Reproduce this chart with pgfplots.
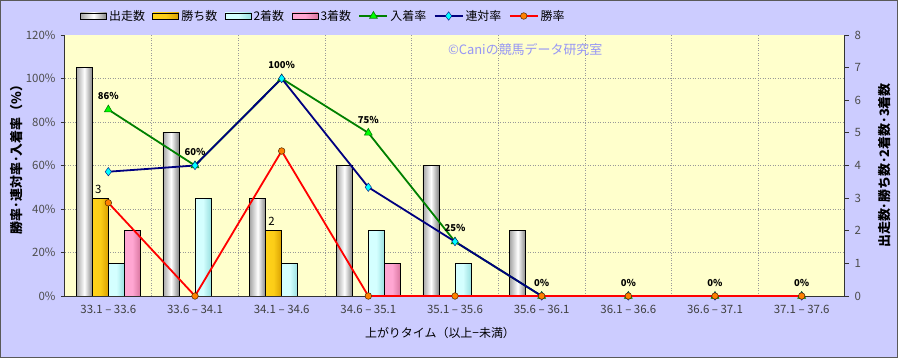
\documentclass[border=0pt]{standalone}
\usepackage{pgfplots}
\pgfplotsset{compat=1.18}
\usepackage{fontspec}
\setmainfont{Noto Sans CJK JP}
\definecolor{bgout}{HTML}{CCCCFF}
\definecolor{bgplot}{HTML}{FFFFCC}
\definecolor{goldL}{HTML}{FFD21A}
\definecolor{goldR}{HTML}{D9A000}
\definecolor{cyanL}{HTML}{D4FFFF}
\definecolor{cyanR}{HTML}{99E0E0}
\definecolor{pinkL}{HTML}{FFA6D2}
\definecolor{pinkR}{HTML}{D9769F}
\definecolor{lgreen}{HTML}{008000}
\definecolor{lnavy}{HTML}{000080}
\definecolor{mcyan}{HTML}{00FFFF}
\definecolor{wm}{HTML}{9696F5}
\pgfplotsset{/pgf/number format/assume math mode=true,
  bA/.style={draw=black, line width=0.9bp, left color=gray!70, right color=gray!95, middle color=white, bar shift=-24bp, forget plot},
  bB/.style={draw=black, line width=0.9bp, left color=goldL, right color=goldR, middle color=goldL!90!goldR, bar shift=-8bp, forget plot},
  bC/.style={draw=black, line width=0.9bp, left color=cyanL, right color=cyanR, middle color=cyanL, bar shift=8bp, forget plot},
  bD/.style={draw=black, line width=0.9bp, left color=pinkL, right color=pinkR, middle color=pinkL, bar shift=24bp, forget plot},
}
\begin{document}
\begin{tikzpicture}
\fill[bgout] (-65bp,-62bp) rectangle (833bp,296bp);
\draw[black!65, line width=1.5bp] (-64.25bp,-61.25bp) rectangle (832.25bp,295.25bp);
\useasboundingbox (-65bp,-62bp) rectangle (833bp,296bp);
\begin{axis}[
  at={(0,0)}, anchor=south west,
  scale only axis, width=780bp, height=261bp,
  xmin=-0.5, xmax=8.5, ymin=0, ymax=8,
  axis x line*=bottom, axis y line*=right,
  xtick={0,...,8}, xticklabels={}, x tick style={draw=none},
  minor xtick={0.5,1.5,...,7.5}, xminorgrids,
  ytick={0,...,8}, minor ytick={1.33333,2.66667,4,5.33333,6.66667}, yminorgrids,
  minor tick length=0pt, major tick length=4bp, tick align=outside,
  minor grid style={black!40, dash pattern=on 1bp off 1.5bp, line width=0.6bp},
  axis background/.style={fill=bgplot},
  axis line style={black!80, line width=1bp},
  tick style={black!80, line width=0.8bp},
  ybar=0pt, bar width=16bp,
  yticklabel style={font=\fontsize{11.5}{13}\selectfont, color=black!70, xshift=2bp},
  ylabel={出走数･勝ち数･2着数･3着数},
  every axis y label/.style={at={(axis description cs:1,0.5)}, xshift=40bp, rotate=90, anchor=center, font=\bfseries\fontsize{13}{15}\selectfont},
]
% 出走数
\addplot[bA] coordinates {(0,7)};
\addplot[bA] coordinates {(1,5)};
\addplot[bA] coordinates {(2,3)};
\addplot[bA] coordinates {(3,4)};
\addplot[bA] coordinates {(4,4)};
\addplot[bA] coordinates {(5,2)};
% 勝ち数
\addplot[bB, nodes near coords, point meta=explicit symbolic,
  every node near coord/.append style={font=\fontsize{11.5}{13}\selectfont, black, xshift=-2bp, yshift=1bp}] coordinates {(0,3)[3]};
\addplot[bB, nodes near coords, point meta=explicit symbolic,
  every node near coord/.append style={font=\fontsize{11.5}{13}\selectfont, black, xshift=-2bp, yshift=1bp}] coordinates {(2,2)[2]};
% 2着数
\addplot[bC] coordinates {(0,1)};
\addplot[bC] coordinates {(1,3)};
\addplot[bC] coordinates {(2,1)};
\addplot[bC] coordinates {(3,2)};
\addplot[bC] coordinates {(4,1)};
% 3着数
\addplot[bD] coordinates {(0,2)};
\addplot[bD] coordinates {(3,1)};
\end{axis}
\begin{axis}[
  at={(0,0)}, anchor=south west,
  scale only axis, width=780bp, height=261bp,
  xmin=-0.5, xmax=8.5, ymin=0, ymax=120,
  axis x line*=bottom, axis y line*=left,
  clip=false,
  xtick={0,...,8},
  xticklabels={33.1 – 33.6, 33.6 – 34.1, 34.1 – 34.6, 34.6 – 35.1, 35.1 – 35.6, 35.6 – 36.1, 36.1 – 36.6, 36.6 – 37.1, 37.1 – 37.6},
  x tick style={draw=none},
  xticklabel style={font=\fontsize{11.5}{13}\selectfont, color=black!75, yshift=-2bp},
  ytick={0,20,...,120}, yticklabel={\pgfmathprintnumber{\tick}\%},
  yticklabel style={font=\fontsize{11.5}{13}\selectfont, color=black!70, xshift=-2bp},
  major tick length=4bp, tick align=outside,
  axis line style={black!80, line width=1bp},
  tick style={black!80, line width=0.8bp},
  xlabel={上がりタイム（以上−未満）},
  every axis x label/.style={at={(axis description cs:0.5,0)}, yshift=-37bp, xshift=-15bp, anchor=center, font=\fontsize{12}{14}\selectfont},
  ylabel={勝率･連対率･入着率（\%）},
  every axis y label/.style={at={(axis description cs:0,0.5)}, xshift=-48bp, yshift=9bp, rotate=90, anchor=center, font=\bfseries\fontsize{13}{15}\selectfont},
  legend columns=-1,
  legend style={at={(axis description cs:0,1)}, anchor=west, xshift=15bp, yshift=19bp, draw=none, fill=none,
    font=\fontsize{12}{14}\selectfont, inner sep=0pt,
    /tikz/every even column/.append style={column sep=5.5bp}},
  legend image code/.code={\draw[mark repeat=2,mark phase=2,#1] plot coordinates {(0bp,0bp) (14bp,0bp) (28bp,0bp)};},
]
\addlegendimage{legend image code/.code={\draw[draw=black,line width=0.9bp,left color=gray!70,right color=gray!95,middle color=white] (0bp,-3bp) rectangle (26bp,3bp);}}
\addlegendentry{出走数}
\addlegendimage{legend image code/.code={\draw[draw=black,line width=0.9bp,left color=goldL,right color=goldR,middle color=goldL!90!goldR] (0bp,-3bp) rectangle (26bp,3bp);}}
\addlegendentry{勝ち数}
\addlegendimage{legend image code/.code={\draw[draw=black,line width=0.9bp,left color=cyanL,right color=cyanR,middle color=cyanL] (0bp,-3bp) rectangle (26bp,3bp);}}
\addlegendentry{2着数}
\addlegendimage{legend image code/.code={\draw[draw=black,line width=0.9bp,left color=pinkL,right color=pinkR,middle color=pinkL] (0bp,-3bp) rectangle (26bp,3bp);}}
\addlegendentry{3着数}
\addplot[lgreen, line width=1.8bp, mark=triangle*, mark size=4.5bp,
  mark options={fill=green, draw=lgreen, line width=0.6bp},
  nodes near coords, point meta=explicit symbolic,
  every node near coord/.append style={font=\bfseries\fontsize{9.5}{11}\selectfont, black, anchor=south, yshift=6bp}]
  coordinates {(0,85.714)[86\%] (1,60)[60\%] (2,100)[100\%] (3,75)[75\%] (4,25)[25\%] (5,0)[0\%] (6,0)[0\%] (7,0)[0\%] (8,0)[0\%]};
\addlegendentry{入着率}
\addplot[lnavy, line width=1.8bp, mark=diamond*, mark size=4.2bp,
  mark options={fill=mcyan, draw=lnavy, line width=0.4bp}]
  coordinates {(0,57.143) (1,60) (2,100) (3,50) (4,25) (5,0) (6,0) (7,0) (8,0)};
\addlegendentry{連対率}
\addplot[red, line width=1.8bp, mark=*, mark size=3.3bp,
  mark options={fill=orange, draw=black!70!orange, line width=0.5bp}]
  coordinates {(0,42.857) (1,0) (2,66.667) (3,0) (4,0) (5,0) (6,0) (7,0) (8,0)};
\addlegendentry{勝率}
\node[wm, font=\fontsize{13}{15}\selectfont] at (axis description cs:0.59,0.943) {©Caniの競馬データ研究室};
\end{axis}
\end{tikzpicture}
\end{document}
